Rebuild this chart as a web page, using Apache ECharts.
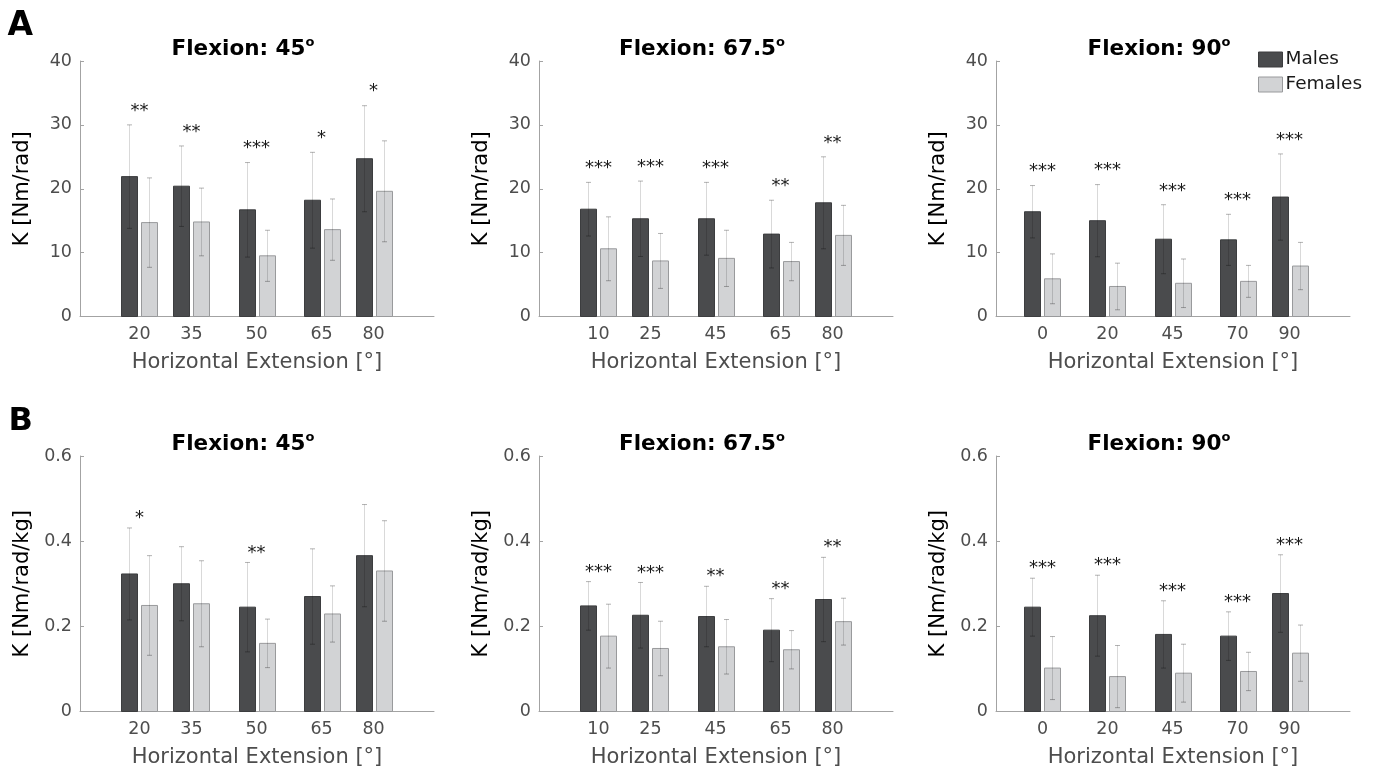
<!DOCTYPE html>
<html>
<head>
    <meta charset="utf-8">
    <title>Shoulder stiffness K by sex</title>
    <script src="https://cdn.jsdelivr.net/npm/echarts@6/dist/echarts.min.js"></script>
</head>
<body style="margin:0">
    <div id="main" style="width:1375px; height:775px"></div>
    <script type="text/javascript">
        // horizontal extension tick labels for each flexion angle
        var ext45 = ['20', '35', '50', '65', '80'];
        var ext675 = ['10', '25', '45', '65', '80'];
        var ext90 = ['0', '20', '45', '70', '90'];
        var flexions = ['45', '67.5', '90'];

        // row A: K [Nm/rad], mean and SD
        var kMale45 = [21.9, 20.4, 16.7, 18.2, 24.7];
        var kMale45Sd = [8.1, 6.3, 7.4, 7.5, 8.3];
        var kFemale45 = [14.7, 14.8, 9.5, 13.6, 19.6];
        var kFemale45Sd = [7.0, 5.3, 4.0, 4.8, 7.9];
        var kSig45 = ['**', '**', '***', '*', '*'];

        var kMale675 = [16.8, 15.3, 15.3, 12.9, 17.8];
        var kMale675Sd = [4.2, 5.9, 5.7, 5.3, 7.2];
        var kFemale675 = [10.6, 8.7, 9.1, 8.6, 12.7];
        var kFemale675Sd = [5.0, 4.3, 4.4, 3.0, 4.7];
        var kSig675 = ['***', '***', '***', '**', '**'];

        var kMale90 = [16.4, 15.0, 12.1, 12.0, 18.7];
        var kMale90Sd = [4.1, 5.65, 5.4, 4.0, 6.75];
        var kFemale90 = [5.9, 4.7, 5.2, 5.5, 7.9];
        var kFemale90Sd = [3.9, 3.65, 3.8, 2.5, 3.7];
        var kSig90 = ['***', '***', '***', '***', '***'];

        // row B: K [Nm/rad/kg], mean and SD
        var nMale45 = [0.323, 0.300, 0.245, 0.270, 0.366];
        var nMale45Sd = [0.108, 0.087, 0.105, 0.112, 0.120];
        var nFemale45 = [0.249, 0.253, 0.160, 0.229, 0.330];
        var nFemale45Sd = [0.117, 0.101, 0.057, 0.066, 0.118];
        var nSig45 = ['*', '', '**', '', ''];

        var nMale675 = [0.248, 0.226, 0.223, 0.191, 0.263];
        var nMale675Sd = [0.057, 0.077, 0.071, 0.074, 0.099];
        var nFemale675 = [0.177, 0.148, 0.152, 0.145, 0.211];
        var nFemale675Sd = [0.075, 0.064, 0.064, 0.045, 0.055];
        var nSig675 = ['***', '***', '**', '**', '**'];

        var nMale90 = [0.245, 0.225, 0.181, 0.177, 0.277];
        var nMale90Sd = [0.068, 0.095, 0.079, 0.057, 0.091];
        var nFemale90 = [0.102, 0.082, 0.090, 0.094, 0.137];
        var nFemale90Sd = [0.074, 0.073, 0.068, 0.045, 0.066];
        var nSig90 = ['***', '***', '***', '***', '***'];

        // group slots on the x axis (matlab style spacing)
        var slots = [1, 1.8, 2.8, 3.8, 4.6];
        var slots90 = [0.8, 1.8, 2.8, 3.8, 4.6];

        var FONT = 'DejaVu Sans';
        var colLeft = [80, 539, 996];
        var rowTop = [61, 456];
        var PW = 354, PH = 255.5;
        var BAR_W = 16, BAR_OFF = 10;
        var MALE = '#4a4b4d', FEMALE = '#d2d3d5';

        var rows = [
            {yName: 'K [Nm/rad]', max: 40, interval: 10, gap: 2.8, panels: [
                {ext: ext45, pos: slots, m: kMale45, ms: kMale45Sd, f: kFemale45, fs: kFemale45Sd, sig: kSig45},
                {ext: ext675, pos: slots, m: kMale675, ms: kMale675Sd, f: kFemale675, fs: kFemale675Sd, sig: kSig675},
                {ext: ext90, pos: slots90, m: kMale90, ms: kMale90Sd, f: kFemale90, fs: kFemale90Sd, sig: kSig90}
            ]},
            {yName: 'K [Nm/rad/kg]', max: 0.6, interval: 0.2, gap: 0.032, panels: [
                {ext: ext45, pos: slots, m: nMale45, ms: nMale45Sd, f: nFemale45, fs: nFemale45Sd, sig: nSig45},
                {ext: ext675, pos: slots, m: nMale675, ms: nMale675Sd, f: nFemale675, fs: nFemale675Sd, sig: nSig675},
                {ext: ext90, pos: slots90, m: nMale90, ms: nMale90Sd, f: nFemale90, fs: nFemale90Sd, sig: nSig90}
            ]}
        ];

        function makeRender(side, sig, gap) {
            return function (params, api) {
                var x = api.value(0), m = api.value(1), s = api.value(2);
                var p0 = api.coord([x, 0]);
                var pm = api.coord([x, m]);
                var hi = api.coord([x, m + s])[1];
                var lo = api.coord([x, m - s])[1];
                var cx = Math.round(pm[0] + side * BAR_OFF) + 0.5;
                var male = side < 0;
                var kids = [
                    {type: 'rect', shape: {x: cx - BAR_W / 2, y: pm[1], width: BAR_W, height: p0[1] - pm[1]},
                        style: {fill: male ? MALE : FEMALE, stroke: male ? '#3c3d3f' : '#999a9c', lineWidth: 1}},
                    {type: 'line', shape: {x1: cx, y1: hi, x2: cx, y2: lo},
                        style: {stroke: 'rgba(0,0,0,0.15)', lineWidth: 1}},
                    {type: 'line', shape: {x1: cx - 2.5, y1: hi, x2: cx + 2.5, y2: hi},
                        style: {stroke: 'rgba(0,0,0,0.3)', lineWidth: 1}},
                    {type: 'line', shape: {x1: cx - 2.5, y1: lo, x2: cx + 2.5, y2: lo},
                        style: {stroke: 'rgba(0,0,0,0.3)', lineWidth: 1}}
                ];
                if (sig && sig[params.dataIndex]) {
                    var sy = api.coord([x, m + s + gap])[1];
                    kids.push({type: 'text', x: pm[0], y: sy + 4,
                        style: {text: sig[params.dataIndex], fill: '#1a1a1a', fontSize: 18, fontFamily: FONT,
                            textAlign: 'center', textVerticalAlign: 'middle'}});
                }
                return {type: 'group', children: kids};
            };
        }

        var grids = [], xAxes = [], yAxes = [], series = [], graphics = [];
        rows.forEach(function (row, r) {
            row.panels.forEach(function (p, c) {
                var gi = grids.length;
                grids.push({left: colLeft[c], top: rowTop[r], width: PW, height: PH});
                (function (pos, ext) {
                    xAxes.push({
                        gridIndex: gi, type: 'value', min: 0.085, max: 5.53,
                        name: 'Horizontal Extension [°]', nameLocation: 'middle', nameGap: 36,
                        nameTextStyle: {fontSize: 21, color: '#4d4d4d', fontFamily: FONT},
                        axisLine: {show: true, lineStyle: {color: '#a3a3a3'}},
                        axisTick: {show: false},
                        splitLine: {show: false},
                        axisLabel: {
                            customValues: pos, margin: 9, fontSize: 17.5, color: '#4d4d4d', fontFamily: FONT,
                            formatter: function (v) {
                                for (var i = 0; i < pos.length; i++) {
                                    if (Math.abs(pos[i] - v) < 1e-6) return ext[i];
                                }
                                return '';
                            }
                        }
                    });
                })(p.pos, p.ext);
                yAxes.push({
                    gridIndex: gi, type: 'value', min: 0, max: row.max, interval: row.interval,
                    name: row.yName, nameLocation: 'middle', nameGap: 47,
                    nameTextStyle: {fontSize: 21, color: '#000', fontFamily: FONT},
                    axisLine: {show: true, lineStyle: {color: '#a3a3a3'}},
                    axisTick: {show: true, inside: true, length: 4, lineStyle: {color: '#a3a3a3'}},
                    splitLine: {show: false},
                    axisLabel: {margin: 8, fontSize: 17.5, color: '#4d4d4d', fontFamily: FONT}
                });
                var mData = p.pos.map(function (x, i) { return [x, p.m[i], p.ms[i]]; });
                var fData = p.pos.map(function (x, i) { return [x, p.f[i], p.fs[i]]; });
                series.push({
                    name: 'Males', type: 'custom', xAxisIndex: gi, yAxisIndex: gi,
                    itemStyle: {color: MALE}, encode: {x: 0, y: 1},
                    renderItem: makeRender(-1, p.sig, row.gap), data: mData, silent: true
                });
                series.push({
                    name: 'Females', type: 'custom', xAxisIndex: gi, yAxisIndex: gi,
                    itemStyle: {color: FEMALE}, encode: {x: 0, y: 1},
                    renderItem: makeRender(1, null, 0), data: fData, silent: true
                });
                graphics.push({
                    type: 'text', x: colLeft[c] + PW / 2 - 14, y: rowTop[r] - 12 - (r ? 0 : 0),
                    style: {
                        text: '{t|Flexion: ' + flexions[c] + '}{s|o}',
                        textAlign: 'center', textVerticalAlign: 'middle',
                        rich: {
                            t: {fontSize: 21.5, fontWeight: 'bold', fontFamily: FONT, fill: '#000', lineHeight: 26},
                            s: {fontSize: 13, fontWeight: 'bold', fontFamily: FONT, fill: '#000', lineHeight: 13, verticalAlign: 'top'}
                        }
                    }
                });
            });
        });

        graphics.push({type: 'text', x: 7.5, y: 26.5,
            style: {text: 'A', fontSize: 33, fontWeight: 'bold', fontFamily: FONT, fill: '#000', textVerticalAlign: 'middle'}});
        graphics.push({type: 'text', x: 8.5, y: 421.5,
            style: {text: 'B', fontSize: 32, fontWeight: 'bold', fontFamily: FONT, fill: '#000', textVerticalAlign: 'middle'}});

        var myChart = echarts.init(document.getElementById('main'));
        var option = {
            backgroundColor: '#fff',
            animation: false,
            grid: grids,
            xAxis: xAxes,
            yAxis: yAxes,
            legend: {
                orient: 'vertical', left: 1258, top: 50, padding: 0,
                itemWidth: 24, itemHeight: 15, itemGap: 6, icon: 'rect',
                textStyle: {fontSize: 18.5, color: '#1a1a1a', fontFamily: FONT, padding: [0, 0, 0, -2]},
                data: [
                    {name: 'Males', itemStyle: {color: MALE, borderColor: '#3c3d3f', borderWidth: 1}},
                    {name: 'Females', itemStyle: {color: FEMALE, borderColor: '#999a9c', borderWidth: 1}}
                ]
            },
            graphic: graphics,
            series: series
        };
        myChart.setOption(option);
    </script>
</body>
</html>
